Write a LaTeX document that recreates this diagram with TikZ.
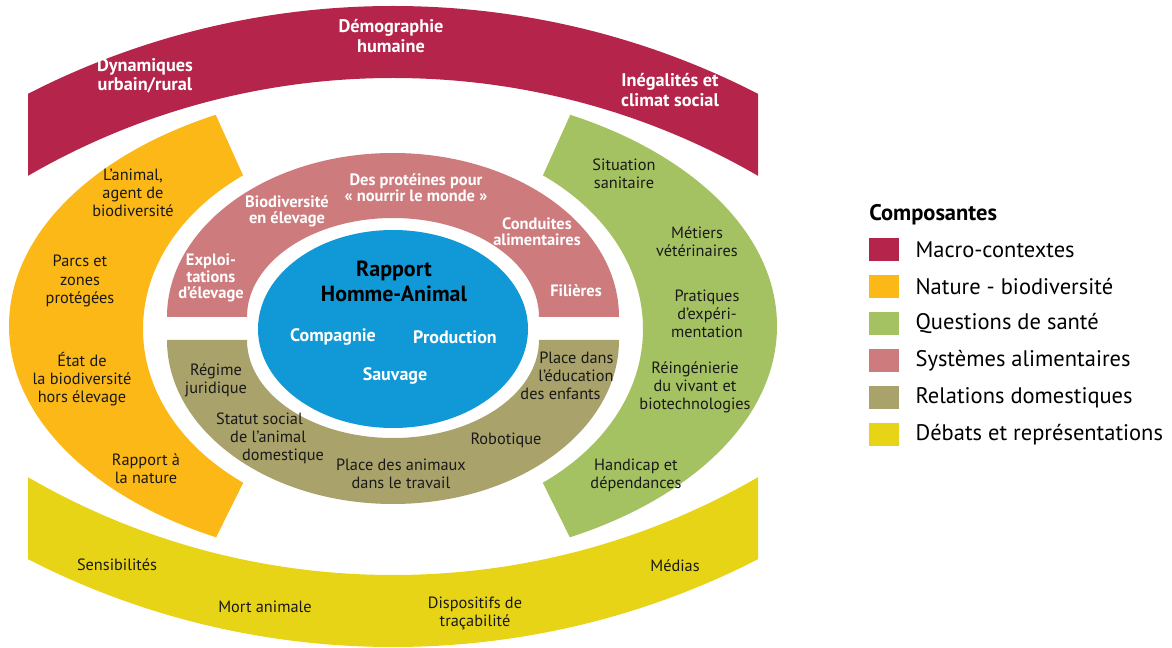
\documentclass[tikz,border=0pt]{standalone}
\usepackage{fontspec}
\setmainfont{PT Sans}
\usetikzlibrary{positioning}
\definecolor{macro}{HTML}{B5254B}
\definecolor{nature}{HTML}{FBB817}
\definecolor{sante}{HTML}{A5C262}
\definecolor{alim}{HTML}{CD7B7D}
\definecolor{domest}{HTML}{A9A26B}
\definecolor{debats}{HTML}{E8D416}
\definecolor{rapport}{HTML}{1198D6}
\begin{document}
\begin{tikzpicture}[x=0.025cm, y=-0.025cm,
  txt/.style={align=center, inner sep=0pt, text=black!90, font=\fontsize{11.6}{12.9}\selectfont},
  wtxt/.style={align=center, inner sep=0pt, text=white, font=\bfseries\fontsize{11.7}{11.6}\selectfont},
  mtxt/.style={wtxt, font=\bfseries\fontsize{13}{13.6}\selectfont},
  ctxt/.style={wtxt, font=\bfseries\fontsize{12.8}{14}\selectfont},
  legsq/.style={minimum width=21.3pt, minimum height=16.4pt, inner sep=0pt},
  legtxt/.style={inner sep=0pt, anchor=west, font=\fontsize{16}{19}\selectfont}]
\useasboundingbox (0,0) rectangle (1172,648);
% bandes exterieures
\begin{scope}
\clip (28,0) rectangle (758,648);
\fill[macro, even odd rule] (393,807) circle[radius=801] (393,807) circle[radius=729];
\fill[debats, even odd rule] (393,-154) circle[radius=801] (393,-154) circle[radius=729];
\end{scope}
\begin{scope}
\clip (0,60) -- (191,60) -- (311,326) -- (321,326) -- (190,590) -- (0,590) -- cycle;
\fill[nature, even odd rule] (393,326) ellipse[x radius=384, y radius=238] (393,329) ellipse[x radius=250, y radius=192];
\end{scope}
\begin{scope}
\clip (786,60) -- (595,60) -- (475,326) -- (465,326) -- (596,590) -- (786,590) -- cycle;
\fill[sante, even odd rule] (393,326) ellipse[x radius=384, y radius=238] (393,329) ellipse[x radius=250, y radius=192];
\end{scope}
% anneau interieur
\fill[alim] (167,317) arc[start angle=180, end angle=360, x radius=226, y radius=164]
  -- (539,317) arc[start angle=0, end angle=-180, x radius=146, y radius=99] -- cycle;
\fill[domest] (167,340) arc[start angle=180, end angle=0, x radius=226, y radius=164]
  -- (539,340) arc[start angle=0, end angle=180, x radius=146, y radius=98] -- cycle;
\fill[rapport] (393,329) ellipse[x radius=135, y radius=99];

\begin{scope}[every node/.style={mtxt}]
\node (dyn) at (145,76) {Dynamiques\\urbain/rural};
\node (demo) at (391,36) {Démographie\\humaine};
\node (ineg) at (670,90) {Inégalités et\\climat social};
\end{scope}

\begin{scope}[every node/.style={txt}]
\node (agent) at (133,193) {L’animal,\\agent de\\biodiversité};
\node (parcs) at (80,281) {Parcs et\\zones\\protégées};
\node (etat) at (82,379) {État de\\la biodiversité\\hors élevage};
\node (nat) at (146,469) {Rapport à\\la nature};
\node (sit) at (624,174) {Situation\\sanitaire};
\node (vet) at (697,242) {Métiers\\vétérinaires};
\node (exp) at (707,314) {Pratiques\\d’expéri-\\mentation};
\node (bio) at (695,387) {Réingénierie\\du vivant et\\biotechnologies};
\node (hand) at (636,475) {Handicap et\\dépendances};
\node (sens) at (117,565) {Sensibilités};
\node (mort) at (265,607) {Mort animale};
\node (trac) at (475,613) {Dispositifs de\\traçabilité};
\node (med) at (675,566) {Médias};
\node (jur) at (216,380) {Régime\\juridique};
\node[align=left] (stat) at (270,438) {Statut social\\\hspace*{10pt}de l’animal\\\hspace*{18.5pt}domestique};
\node[align=right] (educ) at (567,376) {Place dans\\l’éducation\hspace*{5pt}\\des enfants\hspace*{9.2pt}};
\node (robo) at (506,440) {Robotique};
\node (trav) at (401,474) {Place des animaux\\dans le travail};
\end{scope}

\begin{scope}[every node/.style={wtxt}]
\node (prot) at (416,188) {Des protéines pour\\« nourrir le monde »};
\node (biod) at (287,211) {Biodiversité\\en élevage};
\node (cond) at (537,232) {Conduites\\alimentaires};
\node (expl) at (211,278) {Exploi-\\tations\\d’élevage};
\node (fil) at (576,291) {Filières};
\end{scope}

\node[align=center, inner sep=0pt, font=\bfseries\fontsize{15.6}{17.8}\selectfont] (rha) at (394,281) {Rapport\\Homme-Animal};
\begin{scope}[every node/.style={ctxt}]
\node (comp) at (333,337) {Compagnie};
\node (prod) at (455,337) {Production};
\node (sauv) at (395,376) {Sauvage};
\end{scope}

% legende
\node[anchor=west, inner sep=0pt, font=\bfseries\fontsize{16}{19}\selectfont] (titre) at (869,215) {Composantes};
\foreach \c/\t [count=\i from 0] in {macro/Macro-contextes, nature/Nature - biodiversité, sante/Questions de santé, alim/Systèmes alimentaires, domest/Relations domestiques, debats/Débats et représentations}
{
  \node[legsq, fill=\c] (sq\i) at (884,{249.5+37*\i}) {};
  \node[legtxt, right=11.4pt of sq\i] (lg\i) {\t};
}
\end{tikzpicture}
\end{document}
